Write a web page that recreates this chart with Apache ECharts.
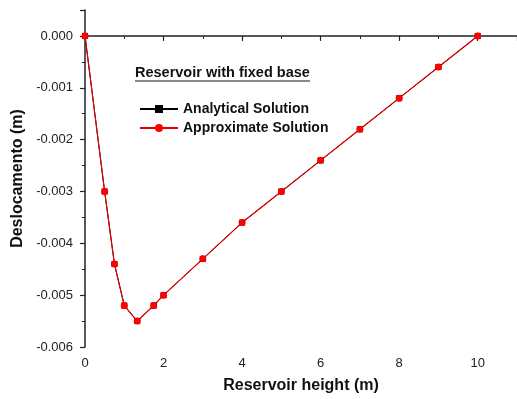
<!DOCTYPE html>
<html>
<head>
<meta charset="utf-8">
<script src="https://cdn.jsdelivr.net/npm/echarts@6/dist/echarts.min.js"></script>
<style>html,body{margin:0;padding:0;background:#fff}#c{width:517px;height:399px}</style>
</head>
<body>
<div id="c"></div>
<script>
const heights = [0, 0.5, 0.75, 1, 1.33, 1.75, 2, 3, 4, 5, 6, 7, 8, 9, 10];
const analytical = [0, -0.003, -0.0044, -0.0052, -0.0055, -0.0052, -0.005, -0.0043, -0.0036, -0.003, -0.0024, -0.0018, -0.0012, -0.0006, 0];
const approximate = [0, -0.003, -0.0044, -0.0052, -0.0055, -0.0052, -0.005, -0.0043, -0.0036, -0.003, -0.0024, -0.0018, -0.0012, -0.0006, 0];
const seriesNames = ['Analytical Solution', 'Approximate Solution'];
const legendTitle = 'Reservoir with fixed base';
const xTitle = 'Reservoir height (m)';
const yTitle = 'Deslocamento (m)';

const font = 'Liberation Sans, Arial, sans-serif';
const chart = echarts.init(document.getElementById('c'));
const pairs = (ys) => heights.map((x, i) => [x, ys[i]]);
chart.setOption({
  animation: false,
  grid: {left: 85, top: 10, right: 0, bottom: 51, containLabel: false},
  xAxis: {
    type: 'value', min: 0, max: 11, interval: 2,
    name: xTitle, nameLocation: 'middle', nameGap: 31,
    nameTextStyle: {fontFamily: font, fontWeight: 'bold', fontSize: 16, color: '#111'},
    axisLine: {lineStyle: {color: '#222', width: 1.5}},
    axisTick: {inside: false, length: 5, lineStyle: {color: '#222', width: 1.2}},
    minorTick: {show: true, splitNumber: 2, length: 3, lineStyle: {color: '#222'}},
    axisLabel: {fontFamily: font, fontSize: 13, color: '#222', margin: 10, showMaxLabel: false,
      formatter: v => (v % 2 === 0 && v <= 10) ? String(v) : ''},
    splitLine: {show: false}
  },
  yAxis: {
    type: 'value', min: -0.006, max: 0.0005, interval: 0.001,
    name: yTitle, nameLocation: 'middle', nameGap: 58, nameRotate: 90,
    nameTextStyle: {fontFamily: font, fontWeight: 'bold', fontSize: 16, color: '#111'},
    axisLine: {show: true, lineStyle: {color: '#222', width: 1.5}},
    axisTick: {show: true, inside: false, length: 5, lineStyle: {color: '#222', width: 1.2}},
    minorTick: {show: true, splitNumber: 2, length: 3, lineStyle: {color: '#222'}},
    axisLabel: {fontFamily: font, fontSize: 13, color: '#222', margin: 12, showMaxLabel: false,
      formatter: v => (v > 0.0001) ? '' : (Math.abs(v) < 1e-9 ? '0.000' : v.toFixed(3))},
    splitLine: {show: false}
  },
  legend: {
    orient: 'vertical', left: 134, top: 97, itemWidth: 38, itemHeight: 10, itemGap: 5,
    textStyle: {fontFamily: font, fontWeight: 'bold', fontSize: 14, color: '#111'},
    data: [seriesNames[0], seriesNames[1]]
  },
  graphic: [
    {type: 'text', left: 135, top: 65, style: {text: legendTitle, font: 'bold 14.5px ' + font, fill: '#111'}},
    {type: 'line', shape: {x1: 135, y1: 81, x2: 310, y2: 81}, style: {stroke: '#111', lineWidth: 1}}
  ],
  series: [
    {name: seriesNames[0], type: 'line', data: pairs(analytical), symbol: 'rect', symbolSize: 6,
      lineStyle: {color: '#000', width: 1}, itemStyle: {color: '#000'}},
    {name: seriesNames[1], type: 'line', data: pairs(approximate), symbol: 'circle', symbolSize: 7,
      lineStyle: {color: '#e00000', width: 1.2}, itemStyle: {color: '#ff0000'}}
  ]
});
</script>
</body>
</html>
